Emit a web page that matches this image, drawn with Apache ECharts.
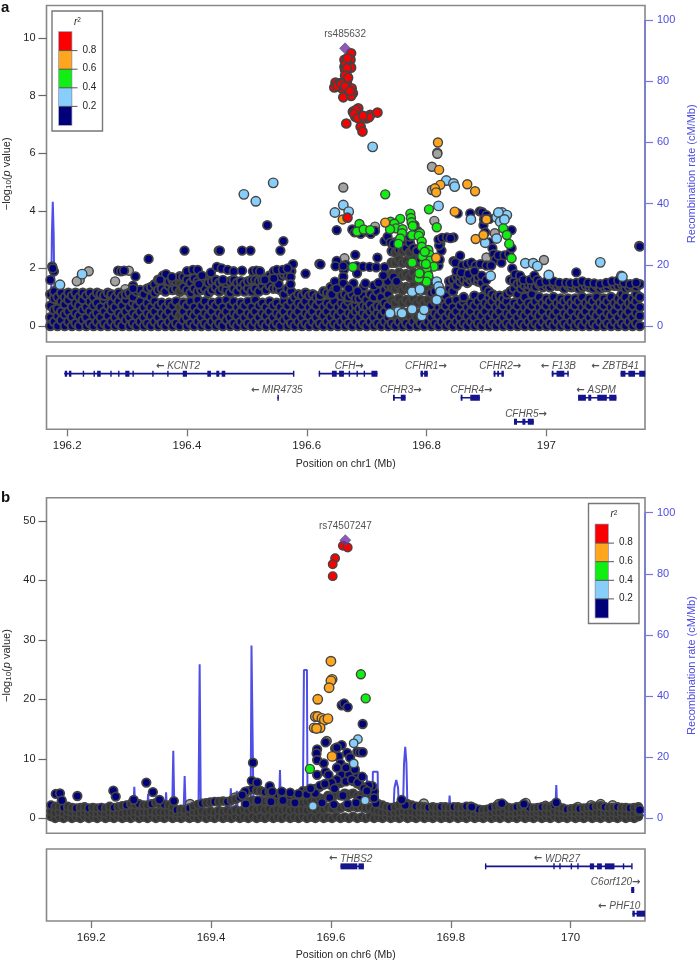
<!DOCTYPE html>
<html><head><meta charset="utf-8">
<style>html,body{margin:0;padding:0;background:#fff}#c{width:697px;height:962px}</style>
<script src="https://cdn.jsdelivr.net/npm/echarts@6/dist/echarts.min.js"></script>
</head><body><div id="c"></div>
<script>
const NAVY='#00007a',LB='#87cefa',GRN='#11ee11',ORG='#ffa51e',RED='#fb0000',PUR='#7030a8',GRY='#a3a3a3';
const leftTicksA=[0,2,4,6,8,10], leftTicksB=[0,10,20,30,40,50], rightTicks=[0,20,40,60,80,100];
const xTicksA=[196.2,196.4,196.6,196.8,197], xTicksB=[169.2,169.4,169.6,169.8,170];
const legendTicks=['0.8','0.6','0.4','0.2'];
const leadA=[[196.664,9.64]], leadB=[[169.624,46.75]];

// ---------- panel a: r2 classes, [position Mb, -log10 p]
const redA=[[196.674,9.47],[196.673,9.24],[196.672,9.0],[196.674,8.97],[196.666,8.77],[196.663,9.24],[196.663,9.0],[196.664,8.89],[196.667,8.48],[196.648,8.45],[196.656,8.43],[196.646,8.28],[196.659,8.25],[196.661,7.94],[196.675,8.25],[196.677,8.08],[196.674,7.99],[196.686,7.56],[196.677,7.44],[196.681,7.27],[196.692,7.25],[196.7,7.21],[196.706,7.33],[196.718,7.41],[196.666,7.03],[196.69,6.92],[196.693,6.75],[196.668,3.76],[196.687,7.3],[196.696,7.22],[196.704,7.25],[196.682,7.5],[196.653,8.4],[196.662,8.35],[196.665,9.1],[196.668,9.3],[196.667,8.95],[196.664,8.7],[196.669,8.62],[196.651,8.33],[196.658,8.4],[196.664,8.32],[196.672,8.15],[196.679,7.36],[196.685,7.22],[196.694,7.3]];
const lbA=[[196.188,1.43],[196.225,1.8],[196.495,4.57],[196.515,4.33],[196.544,4.97],[196.71,6.22],[196.833,5.05],[196.845,4.95],[196.847,4.84],[196.82,4.17],[196.661,4.2],[196.647,3.94],[196.67,3.97],[196.874,3.7],[196.917,3.77],[196.926,3.94],[196.934,3.85],[196.92,3.94],[196.923,3.62],[196.93,3.7],[196.917,3.04],[196.898,2.89],[196.965,2.18],[196.978,2.18],[196.985,2.08],[197.004,1.77],[197.09,2.21],[197.127,1.71],[196.907,1.74],[196.817,1.54],[196.82,1.37],[196.823,1.19],[196.817,.9],[196.776,1.19],[196.789,1.27],[196.776,.58],[196.753,.5],[196.759,.44],[196.739,.44],[196.792,.35],[196.796,.56]];
const grnA=[[196.731,4.57],[196.804,4.05],[196.817,3.43],[196.773,3.9],[196.774,3.75],[196.775,3.6],[196.777,3.47],[196.756,3.72],[196.74,3.62],[196.746,3.55],[196.749,3.39],[196.76,3.36],[196.739,3.36],[196.759,3.22],[196.756,3.04],[196.753,2.85],[196.776,3.15],[196.789,3.22],[196.787,3.13],[196.792,2.93],[196.792,2.75],[196.803,2.64],[196.805,2.47],[196.806,2.27],[196.812,2.06],[196.795,2.17],[196.8,2.0],[196.789,1.83],[196.803,1.74],[196.8,1.54],[196.787,1.65],[196.788,1.83],[196.776,2.2],[196.677,2.05],[196.688,3.54],[196.684,3.28],[196.695,3.35],[196.706,3.33],[196.928,3.39],[196.934,3.16],[196.938,2.85],[196.942,2.35],[196.793,2.42],[196.797,2.58],[196.799,2.15]];
const orgA=[[196.819,6.37],[196.821,5.42],[196.823,4.9],[196.814,4.78],[196.816,4.64],[196.868,4.92],[196.881,4.68],[196.847,3.97],[196.9,3.7],[196.882,3.02],[196.895,3.16],[196.66,3.7],[196.731,3.59],[196.816,2.37]];
const gryA=[[196.236,1.9],[196.221,1.6],[196.216,1.55],[196.28,1.55],[196.303,1.92],[196.297,1.28],[196.194,.7],[196.395,1.03],[196.661,4.81],[196.818,6.02],[196.818,5.98],[196.809,5.53],[196.809,4.72],[196.813,3.65],[196.996,2.29],[196.9,2.38],[196.914,3.22],[196.663,2.35],[196.714,3.45],[196.725,1.2],[196.727,1.15],[196.8,.7],[197.125,1.75],[196.664,1.4],[196.66,1.3]];
const navyA=[[196.175,2.07],[196.178,1.9],[196.172,1.6],[196.176,2.0],[196.534,3.5],[196.561,2.95],[196.556,2.62],[196.492,2.62],[196.506,2.62],[196.453,2.62],[196.455,2.62],[196.396,2.62],[196.336,2.33],[196.621,2.16],[196.577,2.15],[196.598,1.82],[196.314,1.72],[196.285,1.92],[196.29,1.9],[196.295,1.92],[196.31,1.4],[196.31,1.3],
[196.4,1.9],[196.41,1.95],[196.418,1.95],[196.425,1.75],[196.44,1.85],[196.45,2.05],[196.458,2.0],[196.468,1.95],[196.478,1.9],[196.492,1.92],[196.51,1.9],[196.516,1.92],[196.522,1.9],[196.545,1.9],[196.55,1.95],[196.56,1.95],[196.568,2.0],[196.573,1.7],[196.573,1.45],[196.553,1.45],[196.545,1.65],[196.53,1.6],[196.46,1.6],[196.42,1.45],[196.36,1.75],[196.365,1.8],[196.375,1.7],[196.355,1.6],[196.665,2.12],[196.662,1.95],
[196.681,2.47],[196.65,2.26],[196.648,2.08],[196.661,2.08],[196.683,2.08],[196.694,2.06],[196.705,2.05],[196.716,2.04],[196.73,2.04],[196.718,2.37],[196.623,2.14],[196.684,1.83],[196.661,1.71],[196.647,1.54],[196.661,1.48],[196.678,1.48],[196.695,1.36],[196.698,1.48],[196.712,1.4],[196.72,1.5],[196.735,1.55],[196.745,1.7],[196.75,1.55],[196.728,1.75],[196.642,1.1],[196.65,1.3],[196.67,1.3],[196.685,1.2],
[196.65,3.33],[196.676,3.35],[196.68,3.25],[196.69,3.2],[196.7,3.28],[196.707,3.2],[196.714,3.3],[196.73,2.95],[196.735,3.1],[196.74,2.9],[196.745,2.85],[196.785,3.3],[196.78,3.5],[196.772,3.1],
[196.823,2.85],[196.825,2.62],[196.821,2.8],[196.82,3.0],[196.826,3.06],[196.834,3.08],[196.845,3.08],[196.84,3.05],[196.82,2.1],[196.822,2.3],[196.845,2.25],[196.856,2.44],[196.848,2.2],
[196.852,3.91],[196.873,3.91],[196.889,3.98],[196.893,3.95],[196.9,3.85],[196.905,3.72],[196.895,3.5],[196.898,3.25],[196.896,3.7],[196.905,2.9],[196.91,2.7],[196.912,2.5],[196.915,2.3],[196.925,2.2],[196.92,2.45],[196.93,2.45],[196.938,2.5],[196.942,3.33],[196.942,2.7],[196.943,2.0],[196.948,1.8],[196.956,1.75],[196.962,1.6],[196.973,1.6],[196.98,1.75],[196.985,1.6],[197.05,1.86],
[196.86,2.1],[196.868,2.15],[196.875,2.2],[196.882,2.1],[196.89,2.15],[196.9,2.1],[196.908,2.1],[196.85,1.9],[196.858,1.85],[196.87,1.8],[196.88,1.9],[196.892,1.75],[196.9,1.6],[197.155,2.78],[197.156,2.76],
[196.99,1.5],[197,1.55],[197.012,1.55],[197.022,1.5],[197.033,1.5],[197.04,1.48],[197.05,1.5],[197.06,1.55],[197.07,1.5],[197.08,1.48],[197.09,1.45],[197.1,1.5],[197.11,1.55],[197.12,1.58],[197.13,1.5],[197.14,1.45],[197.15,1.5]];
// ---------- panel a: dense low-r2 columns, each [position Mb, -log10 p values...]
const massA=[[196.172,0,.3,.7,1.1],[196.178,.15,.55,.95,1.2],[196.184,0,.35,.6,1.0],[196.19,.2,.5,.85,1.15],[196.196,0,.4,.75,1.0],[196.202,.15,.5,.9,1.15],[196.208,0,.3,.65,1.05],[196.214,.1,.45,.8,1.15],[196.22,0,.35,.7,1.0],[196.226,.2,.55,.9,1.15],[196.232,0,.3,.65,1.05],[196.238,.1,.5,.85,1.15],[196.244,0,.35,.7,1.0],[196.25,.15,.45,.8,1.15],[196.256,0,.3,.65,1.1],[196.262,.1,.5,.9,1.05],[196.268,0,.35,.7,1.15],[196.274,.15,.55,.8,1.1],[196.28,0,.3,.65,1.0],[196.286,.1,.45,.85,1.15],[196.292,0,.35,.7,1.05],[196.298,.2,.5,.9,1.1],[196.304,0,.3,.65,1.15],[196.31,.1,.45,.8,1.0],[196.316,0,.35,.7,1.2],[196.322,.15,.5,.85,1.25],[196.328,0,.3,.65,1.1],[196.334,.1,.45,.8,1.3],[196.34,0,.35,.65,1.0,1.35],[196.346,.15,.5,.85,1.15,1.45],[196.352,0,.3,.7,1.25,1.6],[196.358,.1,.45,.8,1.3,1.65],[196.364,0,.35,.65,1.2,1.6],[196.37,.15,.5,.8,1.4,1.55],[196.376,0,.3,.7,1.25,1.6],[196.382,.1,.45,.85,1.3,1.55],[196.388,0,.35,.65,1.2,1.5,1.72],[196.394,.2,.5,.8,1.35,1.7],[196.4,0,.3,.7,1.25,1.6],[196.406,.1,.45,.85,1.15,1.5],[196.412,0,.35,.65,1.3,1.65],[196.418,.15,.5,.9,1.2,1.55],[196.424,0,.3,.7,1.25,1.5],[196.43,.1,.45,.85,1.3,1.6],[196.436,0,.35,.65,1.15,1.5],[196.442,.15,.5,.8,1.25,1.55],[196.448,0,.3,.7,1.35,1.6],[196.454,.1,.45,.85,1.2,1.5],[196.46,0,.35,.65,1.3,1.55],[196.466,.2,.5,.9,1.25,1.5],[196.472,0,.3,.7,1.15,1.55],[196.478,.1,.45,.85,1.3,1.6],[196.484,0,.35,.65,1.2,1.5],[196.49,.15,.5,.8,1.35,1.55],[196.496,0,.3,.7,1.2,1.45],[196.502,.1,.45,.85,1.3,1.55],[196.508,0,.35,.65,1.2,1.6],[196.514,.15,.5,.9,1.3,1.6],[196.52,0,.3,.7,1.2,1.55],[196.526,.1,.45,.8,1.4,1.6],[196.532,0,.35,.65,1.25,1.65],[196.538,.15,.5,.85,1.4,1.75],[196.544,0,.3,.7,1.3,1.7],[196.55,.1,.45,.8,1.3,1.75],[196.556,0,.35,.65,1.25,1.7],[196.562,.2,.5,.85,1.1,1.8],[196.568,0,.3,.7,1.3,1.75],[196.574,.1,.45,.85,1.2,1.9],[196.58,0,.35,.65,1.0],[196.586,.15,.5,.8,1.1],[196.592,0,.3,.7,1.05],[196.598,.1,.45,.85,1.15],[196.604,0,.35,.65,1.05],[196.61,.15,.5,.8,1.1],[196.616,0,.3,.7,1.0],[196.622,.1,.45,.85,1.05],[196.628,0,.35,.65,1.2],[196.634,.15,.5,.8,1.15],[196.64,0,.3,.7,1.1,1.35],[196.646,.1,.45,.85,1.25],[196.652,0,.35,.65,1.15],[196.658,.15,.5,.8,1.05],[196.664,0,.3,.7,1.1],[196.67,.1,.45,.85,1.0],[196.676,0,.35,.65,1.1],[196.682,.15,.5,.75,.95],[196.688,0,.3,.6,.95],[196.694,.1,.45,.7,1.05],[196.7,0,.35,.65,.9],[196.706,.15,.5,.75,1.1],[196.712,0,.3,.6,1.0],[196.718,.1,.45,.7,1.2],[196.724,0,.35,.65,1.0],[196.73,.15,.5,.8,1.25],[196.736,0,.3,.7,1.1,1.4],[196.742,.1,.45,.9,1.35,1.8,2.2,2.6],[196.748,0,.35,.8,1.3,1.75,2.2,2.55,2.9],[196.754,.15,.5,.95,1.4,1.85,2.3,2.65],[196.76,0,.3,.8,1.25,1.75,2.2,2.6,2.85],[196.766,.1,.45,.9,1.35,1.8,2.25,2.7],[196.772,0,.35,.8,1.3,1.7,2.15,2.55,2.9],[196.778,.15,.5,.95,1.4,1.85,2.3,2.7],[196.784,0,.3,.8,1.25,1.7,2.2,2.6],[196.79,.1,.45,.9,1.35,1.85,2.3],[196.796,0,.35,.8,1.25,1.7,2.1],[196.802,.15,.5,.9,1.35,1.8,2.2],[196.808,0,.3,.7,1.15,1.55],[196.814,.1,.45,.85,1.2],[196.82,0,.35,.65,1.0],[196.826,.15,.5,.8,1.1],[196.832,0,.3,.7,1.05],[196.838,.1,.45,.85,1.3,1.55],[196.844,0,.35,.65,1.2,1.6],[196.85,.15,.5,.9,1.4,1.7],[196.856,0,.3,.7,1.55,1.75],[196.862,.1,.45,.85,1.0,1.6],[196.868,0,.35,.65,1.5,1.7],[196.874,.15,.5,.8,1.6,1.75],[196.88,0,.3,.7,1.05,1.6],[196.886,.1,.45,.85,1.55,1.7],[196.892,0,.35,.65,1.0,1.5],[196.898,.15,.5,.8,1.3],[196.904,0,.3,.7,1.0,1.2],[196.91,.1,.45,.85,1.1],[196.916,0,.35,.65,1.0],[196.922,.15,.5,.8,1.05],[196.928,0,.3,.7,.95],[196.934,.1,.45,.85,1.1],[196.94,0,.35,.65,1.2,1.6],[196.946,.15,.5,.8,1.3,1.55],[196.952,0,.3,.7,1.1,1.45],[196.958,.1,.45,.85,1.3,1.5],[196.964,0,.35,.65,1.0,1.4],[196.97,.15,.5,.8,1.3,1.45],[196.976,0,.3,.7,1.1,1.4],[196.982,.1,.45,.85,1.35],[196.988,0,.35,.65,1.0,1.45],[196.994,.15,.5,.8,1.35],[197,0,.3,.7,.95,1.4],[197.006,.1,.45,.85,1.35],[197.012,0,.35,.65,1.0,1.45],[197.018,.15,.5,.8,1.4],[197.024,0,.3,.7,.95,1.4],[197.03,.1,.45,.85,1.3],[197.036,0,.35,.65,.95,1.4],[197.042,.15,.5,.8,1.35],[197.048,0,.3,.7,.95,1.4],[197.054,.1,.45,.85,1.3],[197.06,0,.35,.65,1.0,1.35],[197.066,.15,.5,.8,1.4],[197.072,0,.3,.7,.95,1.35],[197.078,.1,.45,.85,1.3],[197.084,0,.35,.65,1.0,1.4],[197.09,.15,.5,.8,1.3],[197.096,0,.3,.7,.95,1.35],[197.102,.1,.45,.85,1.35],[197.108,0,.35,.65,1.0,1.45],[197.114,.15,.5,.8,1.4],[197.12,0,.3,.7,.95,1.4],[197.126,.1,.45,.85,1.1,1.45],[197.132,0,.35,.65,1.0,1.3],[197.138,.15,.5,.8,1.35],[197.144,0,.3,.7,.95,1.4],[197.15,.1,.45,.85,1.1,1.35],[197.156,0,.35,.65,1.0,1.45]];
// recombination rate, [position Mb, cM/Mb]
const recA=[[196.165,1],[196.171,1.5],[196.173,3],[196.1745,30],[196.176,40.6],[196.1775,30],[196.179,3],[196.182,1],[196.3,1],[196.32,.8],[196.5,1],[196.7,2],[196.75,3],[196.85,2],[197,1],[197.165,1]];

// ---------- panel b
const redB=[[169.62,45.8],[169.628,45.5],[169.607,43.7],[169.603,42.7],[169.603,40.7]];
const orgB=[[169.6,26.4],[169.602,23.35],[169.6,23.1],[169.597,21.95],[169.578,20],[169.574,17.1],[169.578,17.1],[169.585,16.8],[169.589,16.5],[169.595,16.75],[169.572,15.2],[169.582,15.2],[169.576,15.1],[169.602,10.4]];
const grnB=[[169.65,24.2],[169.658,20.15],[169.565,8.3]];
const lbB=[[169.645,13.3],[169.638,12.6],[169.638,9.2],[169.657,3],[169.57,2.07]];
const gryB=[[169.365,2.4],[169.44,3.5],[169.755,2.5],[170.05,2.4],[169.958,2.1],[169.97,2.1],[170.012,1.9],[169.593,13],[169.606,10.5],[169.925,2.6],[170.07,2.2],[170.034,2.2],[169.88,2.4]];
const navyB=[[169.618,19],[169.622,19.3],[169.628,18.7],[169.653,15.85],[169.591,12.77],[169.618,12.3],[169.577,11.6],[169.576,10.9],[169.577,9.8],[169.607,11.75],[169.61,11.9],[169.613,10.4],[169.616,9.2],[169.627,11],[169.632,10.2],[169.644,11.2],[169.648,11.1],[169.653,11.1],[169.588,9.24],[169.577,7.3],[169.591,7.8],[169.596,7.3],[169.618,7.3],[169.64,7.55],[169.63,7.3],[169.61,6.5],[169.601,6],[169.672,4.5],[169.675,2.5],[169.669,5.4],[169.663,5.5],[169.47,9.35],[169.468,6.3],[169.477,6],[169.498,5.4],[169.457,4.5],[169.292,6],[169.303,4.4],[169.314,3.1],[169.271,3.1],[169.237,4.65],[169.241,3.65],[169.177,3.75],[169.141,4.1],[169.148,4.2],[169.151,3],[169.338,2.9],[169.546,4.1],[169.532,4.3],[169.518,4.5],[169.502,4.5],[169.885,2.5],[169.922,2.4],[169.976,2.63],[169.835,1.9],[169.724,2.2],[169.718,3.1],[170.115,1.4],[169.452,3.9],[169.56,4],[169.574,4.2],[169.582,5.5],[169.59,5.8],[169.606,5],[169.625,6.2],[169.635,6.5],[169.645,6],[169.655,5],[169.566,5],[169.598,3.5],[169.62,3.8],[169.648,3.2],[169.61,8.5],[169.625,8.5],[169.64,8.2],[169.652,7],[169.66,4.6],[169.672,3.4],[169.585,2.6],[169.605,2.3],[169.628,2.4],[169.642,2.6],[169.5,2.8],[169.52,3],[169.54,2.6],[169.478,3],[169.458,2.4]];
// panel b: dense band, each [position Mb, -log10 p values...]; the last value of a column is its top
const massB=[[169.133,.3,1.2,2.2],[169.14,0,.9,2],[169.147,.2,1.1,2],[169.154,0,.8,1.8],[169.161,.3,1.2,2],[169.168,0,1,1.8],[169.175,.2,1,1.7],[169.182,0,.9,1.8],[169.189,.3,1.1,1.9],[169.196,0,.8,1.7],[169.203,.2,1,1.8],[169.21,0,.9,1.7],[169.217,.3,1,1.8],[169.224,0,.8,1.7],[169.231,.2,1.1,2.0],[169.238,0,.9,1.8],[169.245,.3,1,1.9],[169.252,0,.8,2.1],[169.259,.2,1,2.2],[169.266,0,1,2.4],[169.273,.3,1.2,2.3],[169.28,0,.9,2.4],[169.287,.2,1.1,2.2],[169.294,0,1,2.2],[169.301,.3,1.2,2.4],[169.308,0,1,2.6],[169.315,.2,1.1,2.4],[169.322,0,1,2.3],[169.329,.3,1.2,2.2],[169.336,0,1,1.9],[169.343,.2,.9,1.4],[169.35,0,.9,1.5],[169.357,.3,1,1.4],[169.364,0,.8,1.7],[169.371,.2,1.1,2.0],[169.378,0,1,2.3],[169.385,.3,1.2,2.5],[169.392,0,1,2.6],[169.399,.2,1.2,2.7],[169.406,0,1,2.8],[169.413,.3,1.3,2.8],[169.42,0,1.1,2.9],[169.427,.2,1.3,2.8],[169.434,0,1.1,3],[169.441,.3,1.4,3.2],[169.448,0,1.2,3.5],[169.455,.2,1.5,3.8],[169.462,0,1.3,2.8,4.6],[169.469,.3,1.6,3,4.9],[169.476,0,1.4,2.9,4.7],[169.483,.2,1.6,3,4.6],[169.49,0,1.4,2.9,4.4],[169.497,.3,1.6,3,4.5],[169.504,0,1.3,2.8,4.2],[169.511,.2,1.5,2.9,4],[169.518,0,1.3,2.7,3.9],[169.525,.3,1.5,2.8,3.9],[169.532,0,1.3,2.6,3.8],[169.539,.2,1.5,2.7,3.8],[169.546,0,1.3,2.5,3.6],[169.553,.3,1.4,2.6,4.6],[169.56,0,1.3,2.8,4.6],[169.567,.2,1.6,3,4.8],[169.574,0,1.4,3,5],[169.581,.3,1.7,3.4,5.2],[169.588,0,1.5,3.2,5.6],[169.595,.2,1.8,3.8,5.8],[169.602,0,1.6,3.4,5.4],[169.609,.3,1.9,4,5.8],[169.616,0,1.7,3.8,5.9,7.2],[169.623,.2,2,4.2,6.2],[169.63,0,1.8,4,6.4,7.6],[169.637,.3,2,4.2,6.2],[169.644,0,1.8,3.8,5.8],[169.651,.2,1.9,3.8,5.4],[169.658,0,1.7,3.4,5],[169.665,.3,1.8,3.6,4.8],[169.672,0,1.4,3.2],[169.679,.2,1.2,2.4],[169.686,0,1,2.2],[169.693,.3,1.1,1.9],[169.7,0,.9,1.8],[169.707,.2,1,1.9],[169.714,0,1,2.2],[169.721,.3,1.2,2.2],[169.728,0,1,2.4],[169.735,.2,1.1,2.2],[169.742,0,.9,2],[169.749,.3,1.1,2.0],[169.756,0,1,1.9],[169.763,.2,1,1.8],[169.77,0,.9,1.9],[169.777,.3,1,1.8],[169.784,0,.9,1.9],[169.791,.2,1,1.9],[169.798,0,.9,1.8],[169.805,.3,1.1,1.9],[169.812,0,.9,1.9],[169.819,.2,1,1.8],[169.826,0,.9,2],[169.833,.3,1.1,2],[169.84,0,.9,1.7],[169.847,.2,1,1.5],[169.854,0,.8,1.4],[169.861,.3,1,1.5],[169.868,0,.9,1.8],[169.875,.2,1.1,2],[169.882,0,1,2.1],[169.889,.3,1.2,2.2],[169.896,0,.9,1.8],[169.903,.2,1,1.7],[169.91,0,.9,1.9],[169.917,.3,1.1,2],[169.924,0,1,2],[169.931,.2,1,1.8],[169.938,0,.9,1.7],[169.945,.3,1.1,1.8],[169.952,0,.9,1.9],[169.959,.2,1,1.9],[169.966,0,.9,1.8],[169.973,.3,1.2,2.2],[169.98,0,1,1.9],[169.987,.2,1,1.7],[169.994,0,.9,1.5],[170.001,.3,1,1.6],[170.008,0,.9,1.7],[170.015,.2,1,1.6],[170.022,0,.8,1.7],[170.029,.3,1,1.8],[170.036,0,.9,1.9],[170.043,.2,1,2],[170.05,0,.9,2.1],[170.057,.3,1.1,1.9],[170.064,0,.9,1.8],[170.071,.2,1,1.8],[170.078,0,.9,1.9],[170.085,.3,1.1,1.8],[170.092,0,.9,1.8],[170.099,.2,1,1.7],[170.106,0,.9,1.8],[170.113,.3,1.1,1.9]];
const recB=[[169.125,1],[169.27,1],[169.272,10.3],[169.274,1],[169.293,1],[169.295,8],[169.297,1],[169.323,1],[169.325,8.5],[169.327,1],[169.335,1],[169.337,22.1],[169.339,1],[169.354,1],[169.356,13.8],[169.358,1],[169.379,1],[169.381,50.4],[169.383,1],[169.431,1],[169.433,9.8],[169.435,1],[169.441,1],[169.443,9],[169.445,1],[169.466,1],[169.4675,56.5],[169.4695,56.5],[169.471,1],[169.513,1],[169.515,15.8],[169.517,1],[169.553,1],[169.555,48.5],[169.56,48.5],[169.561,1],[169.652,1],[169.653,13.9],[169.66,13.9],[169.661,1],[169.669,1],[169.67,15.2],[169.678,15.2],[169.679,1],[169.704,1],[169.706,10],[169.709,12.5],[169.712,10],[169.714,1],[169.72,1],[169.722,18],[169.724,23.4],[169.726,18],[169.728,1],[169.796,1],[169.798,7.4],[169.8,1],[169.833,1],[169.835,4],[169.837,1],[169.974,1],[169.976,10.9],[169.978,1],[170.124,1]];

// ---------- gene tracks: [name, direction, row, label position, start, end]
const genesA=[['KCNT2',-1,1,196.385,196.195,196.578],['CFH',1,1,196.671,196.62,196.718],['CFHR1',1,1,196.799,196.79,196.802],['CFHR2',1,1,196.923,196.912,196.929],['F13B',-1,1,197.02,197.009,197.037],['ZBTB41',-1,1,197.115,197.124,197.165],['MIR4735',-1,2,196.55,196.551,196.553],['CFHR3',1,2,196.757,196.744,196.765],['CFHR4',1,2,196.875,196.857,196.889],['ASPM',-1,2,197.083,197.053,197.117],['CFHR5',1,3,196.966,196.946,196.979]];
const exonsA=[[1,196.196,196.2],[1,196.203,196.207],[1,196.226,196.228],[1,196.244,196.246],[1,196.25,196.256],[1,196.272,196.274],[1,196.285,196.287],[1,196.297,196.304],[1,196.309,196.311],[1,196.342,196.344],[1,196.367,196.369],[1,196.393,196.4],[1,196.434,196.44],[1,196.449,196.454],[1,196.458,196.464],[1,196.577,196.578],[1,196.62,196.622],[1,196.642,196.65],[1,196.654,196.662],[1,196.67,196.672],[1,196.683,196.685],[1,196.695,196.697],[1,196.708,196.718],[1,196.79,196.794],[1,196.796,196.802],[1,196.912,196.915],[1,196.918,196.921],[1,196.925,196.929],[1,197.009,197.012],[1,197.017,197.03],[1,197.035,197.037],[1,197.124,197.132],[1,197.137,197.148],[1,197.155,197.165],[2,196.551,196.553],[2,196.744,196.747],[2,196.757,196.765],[2,196.857,196.86],[2,196.873,196.889],[2,197.053,197.066],[2,197.07,197.075],[2,197.085,197.101],[2,197.105,197.117],[3,196.946,196.951],[3,196.96,196.965],[3,196.969,196.979]];
const genesB=[['THBS2',-1,1,169.633,169.616,169.655],['WDR27',-1,1,169.977,169.857,170.102],['C6orf120',1,2,170.075,170.101,170.106],['PHF10',-1,3,170.081,170.103,170.124]];
const exonsB=[[1,169.616,169.644],[1,169.646,169.655],[1,169.857,169.858],[1,169.971,169.973],[1,169.981,169.983],[1,170,170.002],[1,170.011,170.013],[1,170.032,170.039],[1,170.044,170.052],[1,170.057,170.073],[1,170.087,170.089],[1,170.101,170.103],[2,170.101,170.106],[3,170.103,170.107],[3,170.11,170.124]];

const FONT='"Liberation Sans",Arial,sans-serif', DARK='#262626', BLUE='#4d4de0';
const grids=[{top:5.5,h:336.5},{top:356,h:73.3},{top:497.7,h:335.6},{top:849,h:72}];
function xAx(i,min,max,ticks,name){
  const shown=name!=null;
  return {type:'value',gridIndex:i,min,max,show:shown,splitLine:{show:false},axisLine:{show:false},
    axisTick:{show:shown,length:7,lineStyle:{color:'#777',width:1.3},customValues:ticks},
    axisLabel:{show:shown,margin:11,fontSize:11.5,fontFamily:FONT,color:DARK,customValues:ticks,formatter:v=>String(+v.toFixed(1))},
    name,nameLocation:'middle',nameGap:29,nameTextStyle:{fontFamily:FONT,fontSize:10.5,color:DARK}};
}
function yLeft(i,min,max,ticks){
  return {type:'value',gridIndex:i,position:'left',min,max,splitLine:{show:false},axisLine:{show:false},
    axisTick:{length:8,lineStyle:{color:'#666',width:1.2},customValues:ticks},
    axisLabel:{margin:11,fontSize:11,fontFamily:FONT,color:DARK,customValues:ticks},
    name:'{n|\u2212log}{s|10}{n|(}{i|p}{n| value)}',nameLocation:'middle',nameGap:29,
    nameTextStyle:{rich:{n:{fontFamily:FONT,fontSize:11,color:DARK},s:{fontFamily:FONT,fontSize:8,color:DARK,verticalAlign:'bottom',lineHeight:8},i:{fontFamily:FONT,fontSize:11,fontStyle:'italic',color:DARK}}}};
}
function yRight(i,min,max){
  return {type:'value',gridIndex:i,position:'right',min,max,splitLine:{show:false},axisLine:{show:false},
    axisTick:{length:8,lineStyle:{color:'#7777dd',width:1.2},customValues:rightTicks},
    axisLabel:{margin:12,fontSize:11,fontFamily:FONT,color:BLUE,customValues:rightTicks},
    name:'Recombination rate (cM/Mb)',nameLocation:'middle',nameGap:39,nameRotate:90,
    nameTextStyle:{fontFamily:FONT,fontSize:11,color:BLUE}};
}
function yGene(i){return {type:'value',gridIndex:i,inverse:true,min:.266,max:3.31,show:false};}
function pts(x,y,data,color,z,size,bw){
  return {type:'scatter',xAxisIndex:x,yAxisIndex:y,data,symbol:'circle',symbolSize:size||9,z:z,silent:true,animation:false,
    itemStyle:{color,borderColor:'#444',borderWidth:bw||1.4,opacity:1}};
}
// tall columns are so crowded that only the overlapping outlines show through
function expand(cols){const o=[];cols.forEach(c=>{for(let i=1;i<c.length;i++)o.push({value:[c[0],c[i]],itemStyle:{color:(c.length>6&&i>1&&i<c.length-1)?'#363636':NAVY}});});return o;}
function expandTop(cols,core,fill){const o=[];cols.forEach((c,k)=>{for(let i=1;i<c.length;i++)o.push({value:[c[0],c[i]],itemStyle:{color:(i===c.length-1&&k%3===0)?core:fill}});});return o;}
function rec(x,y,data){return {type:'line',xAxisIndex:x,yAxisIndex:y,data,showSymbol:false,z:1,silent:true,animation:false,lineStyle:{color:'#3c3ce6',width:2,opacity:.9}};}
function recAxis(x,y,pos){return {type:'line',xAxisIndex:x,yAxisIndex:y,data:[[pos,0],[pos,100]],showSymbol:false,clip:false,z:9,silent:true,animation:false,lineStyle:{color:'#7777dd',width:1.6}};}
function lead(x,y,data,label){return {type:'scatter',xAxisIndex:x,yAxisIndex:y,data,symbol:'diamond',symbolSize:11,z:9,silent:true,animation:false,
  itemStyle:{color:PUR,borderColor:'#555',borderWidth:.8},label:{show:true,position:'top',distance:3,formatter:label,fontFamily:FONT,fontSize:10,color:DARK}};}
function geneBars(x,y,genes,exons){
  const d=[];genes.forEach(g=>d.push([g[4],g[5],g[2],0]));exons.forEach(e=>d.push([e[1],e[2],e[0],1]));
  return {type:'custom',xAxisIndex:x,yAxisIndex:y,data:d,silent:true,animation:false,z:3,clip:true,encode:{x:[0,1],y:2},
    renderItem(p,api){const a=api.coord([api.value(0),api.value(2)]),b=api.coord([api.value(1),api.value(2)]);
      const h=api.value(3)?6:1.6,w=Math.max(b[0]-a[0],1.4);
      return {type:'rect',shape:{x:a[0],y:a[1]-h/2,width:w,height:h},style:{fill:'#14148c'}};}};
}
function geneLabels(x,y,genes){
  return {type:'scatter',xAxisIndex:x,yAxisIndex:y,symbolSize:1,silent:true,animation:false,z:4,itemStyle:{color:'transparent'},clip:false,
    data:genes.map(g=>[g[3],g[2],g[0],g[1]]),
    label:{show:true,position:'top',distance:2,formatter:p=>p.data[3]<0?'{a|\u2190}{t| '+p.data[2]+'}':'{t|'+p.data[2]+'}{a|\u2192}',
      rich:{t:{fontFamily:FONT,fontSize:10,fontStyle:'italic',color:DARK},a:{fontFamily:'"DejaVu Sans"',fontSize:10,fontWeight:'bold',color:DARK}}}};
}
function legend(x,y){
  const cols=[RED,ORG,GRN,LB,NAVY],els=[];
  els.push({type:'rect',shape:{x,y,width:50.5,height:120},style:{fill:'#fff',stroke:'#777',lineWidth:1.4},z:20});
  els.push({type:'rect',shape:{x:x+7,y:y+21,width:12.5,height:93},style:{fill:'#888',stroke:'#8a8aa8',lineWidth:1.5},z:21});
  cols.forEach((c,i)=>els.push({type:'rect',shape:{x:x+7,y:y+21+i*18.6,width:12.5,height:18.6},style:{fill:c},z:22}));
  legendTicks.forEach((t,i)=>{const ty=y+21+(i+1)*18.6;
    els.push({type:'line',shape:{x1:x+7,y1:ty,x2:x+25.5,y2:ty},style:{stroke:'#555',lineWidth:1},z:23});
    els.push({type:'text',x:x+30.5,y:ty-5.5,style:{text:t,fontFamily:FONT,fontSize:10,fill:DARK},z:23});});
  els.push({type:'text',x:x+22,y:y+6,style:{text:'{i|r}{s|2}',rich:{i:{fontFamily:FONT,fontSize:10,fontStyle:'italic',fill:DARK},s:{fontFamily:FONT,fontSize:6.5,fill:DARK,verticalAlign:'top',lineHeight:8}}},z:23});
  return els;
}
const chart=echarts.init(document.getElementById('c'),null,{renderer:'canvas'});
chart.setOption({
  animation:false,
  grid:grids.map(g=>({left:46.5,width:598.5,top:g.top,height:g.h,show:true,outerBoundsMode:'none',containLabel:false,borderColor:'#888',borderWidth:1.6,backgroundColor:'transparent'})),
  xAxis:[xAx(0,196.1655,197.1647,xTicksA),xAx(1,196.1655,197.1647,xTicksA,'Position on chr1 (Mb)'),xAx(2,169.1255,170.124,xTicksB),xAx(3,169.1255,170.124,xTicksB,'Position on chr6 (Mb)')],
  yAxis:[yLeft(0,-.556,11.128,leftTicksA),yRight(0,-5.23,104.74),yGene(1),yLeft(2,-2.52,53.88,leftTicksB),yRight(2,-4.91,104.9),yGene(3)],
  series:[
    rec(0,1,recA),pts(0,0,gryA,GRY,2),pts(0,0,expand(massA),NAVY,3,8.5,2.2),pts(0,0,navyA,NAVY,3.2,8.5,1.8),pts(0,0,lbA,LB,4,9.5),pts(0,0,grnA,GRN,5),pts(0,0,orgA,ORG,6),pts(0,0,redA,RED,7,9,1.7),lead(0,0,leadA,'rs485632'),recAxis(0,1,197.1647),
    geneBars(1,2,genesA,exonsA),geneLabels(1,2,genesA),
    rec(2,4,recB),pts(2,3,expandTop(massB,NAVY,'#333'),'#333',3,8,1.8),pts(2,3,gryB,GRY,2.5),pts(2,3,navyB,NAVY,3.2,8.5,1.8),pts(2,3,lbB,LB,4,8.5),pts(2,3,grnB,GRN,5,9),pts(2,3,orgB,ORG,6,9.5),pts(2,3,redB,RED,7,8.5),lead(2,3,leadB,'rs74507247'),recAxis(2,4,170.124),
    geneBars(3,5,genesB,exonsB),geneLabels(3,5,genesB)
  ],
  graphic:[
    {type:'text',x:1,y:0,style:{text:'a',fontFamily:FONT,fontSize:15,fontWeight:'bold',fill:'#111'}},
    {type:'text',x:1,y:490,style:{text:'b',fontFamily:FONT,fontSize:15,fontWeight:'bold',fill:'#111'}},
    ...legend(52,11),...legend(588.5,503.5)
  ]
});
</script></body></html>
